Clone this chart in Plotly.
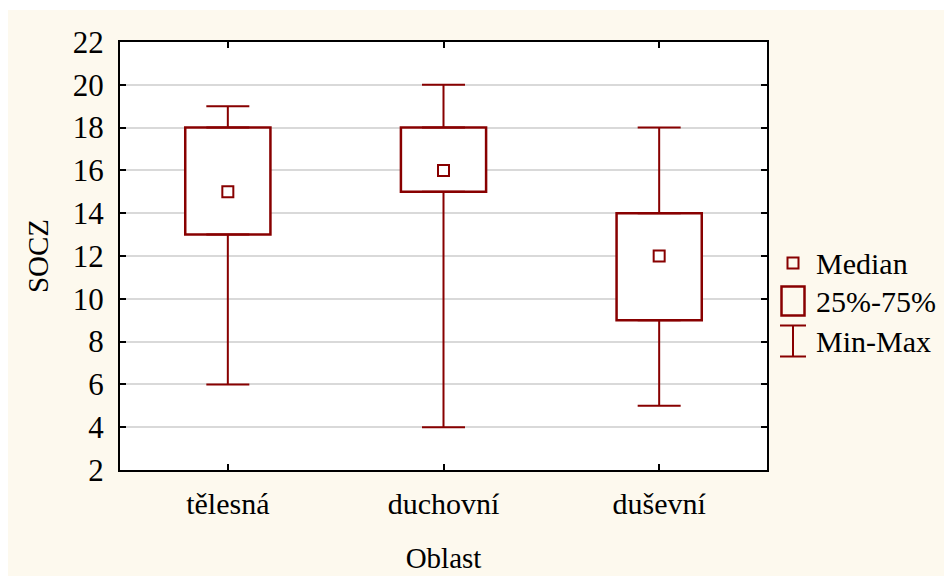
import plotly.graph_objects as go

categories = ["tělesná", "duchovní", "duševní"]
mins = [6, 4, 5]
q1 = [13, 15, 9]
medians = [15, 16, 12]
q3 = [18, 18, 14]
maxs = [19, 20, 18]
y_ticks = list(range(2, 23, 2))
legend_labels = ["Median", "25%-75%", "Min-Max"]

RED = "#880000"
CREAM = "#FDF9EE"
FONT = "Liberation Serif, Times New Roman, serif"
FS = 29

# figure is placed at page offset (8, 8) by the browser's body margin
OFF = 8
W, H = 944, 568
L, R, T, B = 112, 185, 34, 106
pw, ph = W - L - R, H - T - B

def px_x(p):  # page pixel -> paper x
    return (p - OFF - L) / pw

def px_y(p):  # page pixel -> paper y
    return (H - B - (p - OFF)) / ph

fig = go.Figure()

# boxes (25%-75%)
fig.add_trace(go.Bar(
    x=categories, base=q1, y=[b - a for a, b in zip(q1, q3)],
    width=0.395, marker=dict(color="white", line=dict(color=RED, width=2.5)),
    showlegend=False, hoverinfo="skip"))

# upper whiskers
fig.add_trace(go.Scatter(
    x=categories, y=q3, mode="markers", marker=dict(size=1, opacity=0),
    error_y=dict(type="data", symmetric=False,
                 array=[m - b for b, m in zip(q3, maxs)], arrayminus=[0] * 3,
                 color=RED, thickness=2, width=21.5),
    showlegend=False, hoverinfo="skip"))

# lower whiskers
fig.add_trace(go.Scatter(
    x=categories, y=q1, mode="markers", marker=dict(size=1, opacity=0),
    error_y=dict(type="data", symmetric=False,
                 array=[0] * 3, arrayminus=[a - m for a, m in zip(q1, mins)],
                 color=RED, thickness=2, width=21.5),
    showlegend=False, hoverinfo="skip"))

# medians
fig.add_trace(go.Scatter(
    x=categories, y=medians, mode="markers",
    marker=dict(symbol="square-open", size=11, color=RED, line=dict(width=2, color=RED)),
    showlegend=False))

shapes = [
    # thin white strip at the very top
    dict(type="rect", xref="paper", yref="paper", layer="below",
         x0=px_x(0), x1=px_x(960), y0=px_y(8), y1=px_y(10), fillcolor="white", line_width=0),
]

# custom legend
lx = px_x(793)
ys = [px_y(263), px_y(301), px_y(341)]
shapes.append(dict(type="rect", xref="paper", yref="paper", xsizemode="pixel", ysizemode="pixel",
                   xanchor=lx, yanchor=ys[0], x0=-5.5, x1=5.5, y0=-5.5, y1=5.5,
                   line=dict(color=RED, width=2), fillcolor="rgba(0,0,0,0)"))
shapes.append(dict(type="rect", xref="paper", yref="paper", xsizemode="pixel", ysizemode="pixel",
                   xanchor=lx, yanchor=ys[1], x0=-11.5, x1=11.5, y0=-14.5, y1=14.5,
                   line=dict(color=RED, width=2.5), fillcolor="rgba(0,0,0,0)"))
for (xa, xb, ya, yb) in [(0, 0, -15.5, 15.5), (-13, 13, 15.5, 15.5), (-13, 13, -15.5, -15.5)]:
    shapes.append(dict(type="line", xref="paper", yref="paper", xsizemode="pixel", ysizemode="pixel",
                       xanchor=lx, yanchor=ys[2], x0=xa, x1=xb, y0=ya, y1=yb,
                       line=dict(color=RED, width=2)))

annotations = [dict(text=t, xref="paper", yref="paper", x=px_x(814), y=yy,
                    xanchor="left", yanchor="middle", showarrow=False,
                    font=dict(family=FONT, size=30, color="black"))
               for t, yy in zip(legend_labels, ys)]

fig.update_layout(
    width=W, height=H,
    margin=dict(l=L, r=R, t=T, b=B),
    paper_bgcolor=CREAM, plot_bgcolor="white",
    font=dict(family=FONT, size=FS, color="black"),
    shapes=shapes, annotations=annotations,
    showlegend=False,
)
fig.update_xaxes(
    range=[-0.5, 2.5], showgrid=False, showline=True, linecolor="black", linewidth=2,
    mirror="ticks", ticks="inside", ticklen=6, tickwidth=2, tickcolor="black",
    ticklabelstandoff=6, tickfont=dict(family=FONT, size=30), automargin=False,
    title=dict(text="Oblast", standoff=29, font=dict(family=FONT, size=FS)), zeroline=False)
fig.update_yaxes(
    range=[2, 22], tickvals=y_ticks, showgrid=True, gridcolor="#D9D9D9", gridwidth=1.5,
    showline=True, linecolor="black", linewidth=2, automargin=False,
    mirror="ticks", ticks="inside", ticklen=6, tickwidth=2, tickcolor="black",
    ticklabelstandoff=8, tickfont=dict(family=FONT, size=31),
    title=dict(text="SOCZ", standoff=16, font=dict(family=FONT, size=FS)), zeroline=False)

fig.write_html("out.html")
